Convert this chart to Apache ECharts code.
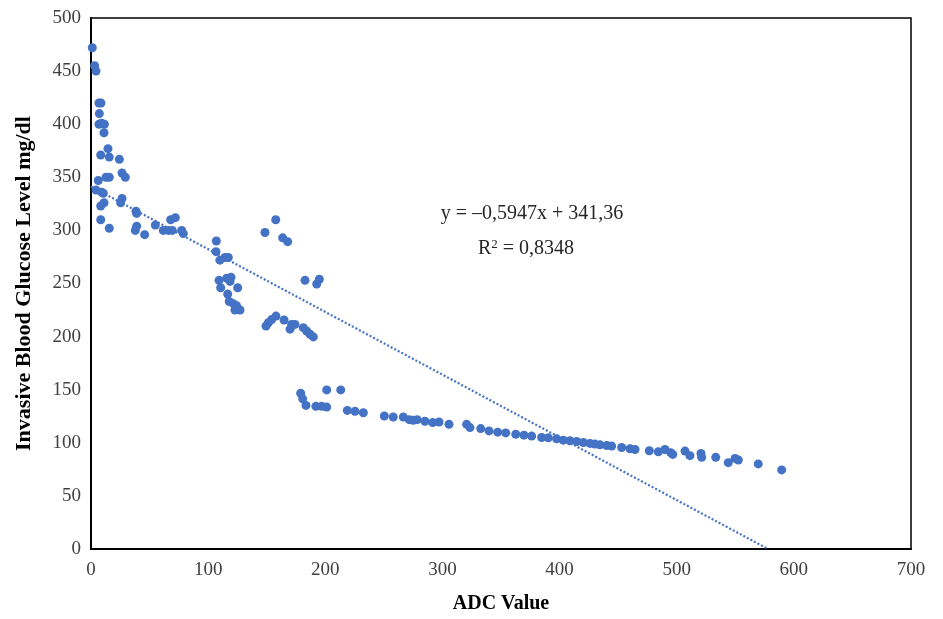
<!DOCTYPE html>
<html>
<head>
<meta charset="utf-8">
<script src="https://cdn.jsdelivr.net/npm/echarts@6/dist/echarts.min.js"></script>
<style>
html,body{margin:0;padding:0;background:#fff;}
#chart{width:943px;height:619px;}
</style>
</head>
<body>
<div id="chart"></div>
<script>
const adcValues = [
1.1,3.1,4.3,6.8,8.5,7.1,6.8,9.1,11.4,11.1,8.3,14.5,15.6,24.2,26.5,29.3,6.2,12.8,15.6,4.3,9.1,10.5,11.1,8.3,26.5,25.3,38.4,39,8.3,15.6,37.8,39,45.8,54.9,68,72,61.7,66,69.4,77.4,78.8,
107,106.7,110,114.4,117.2,109.3,115.8,119.5,110.7,118.7,125.2,116.7,118,121.5,124.3,122.9,127.2,
148.5,157.7,163.6,167.9,182.7,192.7,194.9,149.4,151.4,154.2,157.9,164.8,169.9,171.3,174.1,181.2,184.1,187,189.8,
179,180.7,183.5,201.2,213.2,192,196.9,201.2,218.8,225.4,232.5,250.4,258,266.6,271.7,275.1,278.5,285.1,291.7,297.1,305.6,320.7,323.5,332.7,339.8,347.2,354,362.6,369.6,376.2,384.7,390.4,397.5,
403.2,408.9,414.6,420.3,426,430.2,434.5,440.2,444.5,453,460.1,464.4,476.6,484.3,490,494.9,496.6,507.1,511.3,520.7,521.3,533.3,544,549.8,552.6,569.6,589.6
];
const glucoseValues = [
472,455,450,420,420,410,400,401,400,392,371,377,369,367,354,350,347,350,350,338,336,335,326,323,330,326,318,316,310,302,300,304,296,305,310,312,300,300,300,300,297,
290,280,272,274.5,274.5,253,255,256,246,252,246,240,233,231,229,225,225,
298,310,293,289.4,253,249.5,254,210,213,216,219.3,215.6,207,211.5,211.5,208.4,205.3,202.2,199.7,
146.7,141.4,135.2,149.8,149.8,134.3,134.3,133.6,130.5,129.6,128.3,125.2,124.3,124.3,121.8,121.2,121.8,120.3,119,119.6,117.4,117.4,114.3,113.4,111.2,110,109.3,108.1,107.2,106.3,105,104.7,103.7,
102.5,101.9,101.2,100.3,99.4,98.8,98.1,97.5,96.9,95.6,94.4,93.7,92.5,91.6,93.7,90.7,89.1,92.2,87.9,90,86.3,86.3,81.3,85.3,83.8,80.1,74.5
];
const trendX = [0, 578];
const trendY = [341.36, 0];
const xTicks = [0,100,200,300,400,500,600,700];
const yTicks = [0,50,100,150,200,250,300,350,400,450,500];
const equationText = 'y = \u20130,5947x + 341,36';
const r2Text = '{n|R}{s|2}{n| = 0,8348}';
const xTitle = 'ADC Value';
const yTitle = 'Invasive Blood Glucose Level mg/dl';

const points = adcValues.map((x, i) => [x, glucoseValues[i]]);
const trend = trendX.map((x, i) => [x, trendY[i]]);

const FONT = '"Liberation Serif", "DejaVu Serif", serif';
const chart = echarts.init(document.getElementById('chart'), null, {renderer: 'canvas'});
chart.setOption({
  animation: false,
  backgroundColor: '#ffffff',
  grid: {left: 91, right: 32, top: 18, bottom: 65, show: true, borderColor: '#000', borderWidth: 1.5, backgroundColor: 'transparent'},
  xAxis: {
    type: 'value', min: xTicks[0], max: xTicks[xTicks.length-1], interval: 100,
    name: xTitle, nameLocation: 'middle', nameGap: 45,
    nameTextStyle: {fontFamily: FONT, fontWeight: 'bold', fontSize: 20, color: '#000'},
    axisLine: {show: true, lineStyle: {color: '#000', width: 2}},
    axisTick: {show: false},
    splitLine: {show: false},
    axisLabel: {fontFamily: FONT, fontSize: 19, color: '#404040', margin: 12}
  },
  yAxis: {
    type: 'value', min: yTicks[0], max: yTicks[yTicks.length-1], interval: 50,
    name: yTitle, nameLocation: 'middle', nameGap: 56,
    nameTextStyle: {fontFamily: FONT, fontWeight: 'bold', fontSize: 22, color: '#000'},
    axisLine: {show: true, lineStyle: {color: '#000', width: 2}},
    axisTick: {show: false},
    splitLine: {show: false},
    axisLabel: {fontFamily: FONT, fontSize: 19, color: '#404040', margin: 10}
  },
  series: [
    {
      type: 'line', data: trend, showSymbol: false, symbol: 'none', silent: true,
      lineStyle: {color: '#4472C4', width: 2.2, type: [2, 2]}, z: 3
    },
    {
      type: 'scatter', data: points, symbolSize: 9,
      itemStyle: {color: '#4472C4', opacity: 1}, z: 4
    }
  ],
  graphic: [
    {type: 'text', x: 532, y: 214, style: {text: equationText, font: '20px ' + FONT, fill: '#262626', align: 'center', verticalAlign: 'middle'}},
    {type: 'text', x: 526, y: 249, style: {text: r2Text, align: 'center', verticalAlign: 'middle',
      rich: {
        n: {fontFamily: FONT, fontSize: 20, fill: '#262626', color: '#262626'},
        s: {fontFamily: FONT, fontSize: 13, fill: '#262626', color: '#262626', verticalAlign: 'top', padding: [0,0,8,0]}
      }}}
  ]
});
</script>
</body>
</html>
